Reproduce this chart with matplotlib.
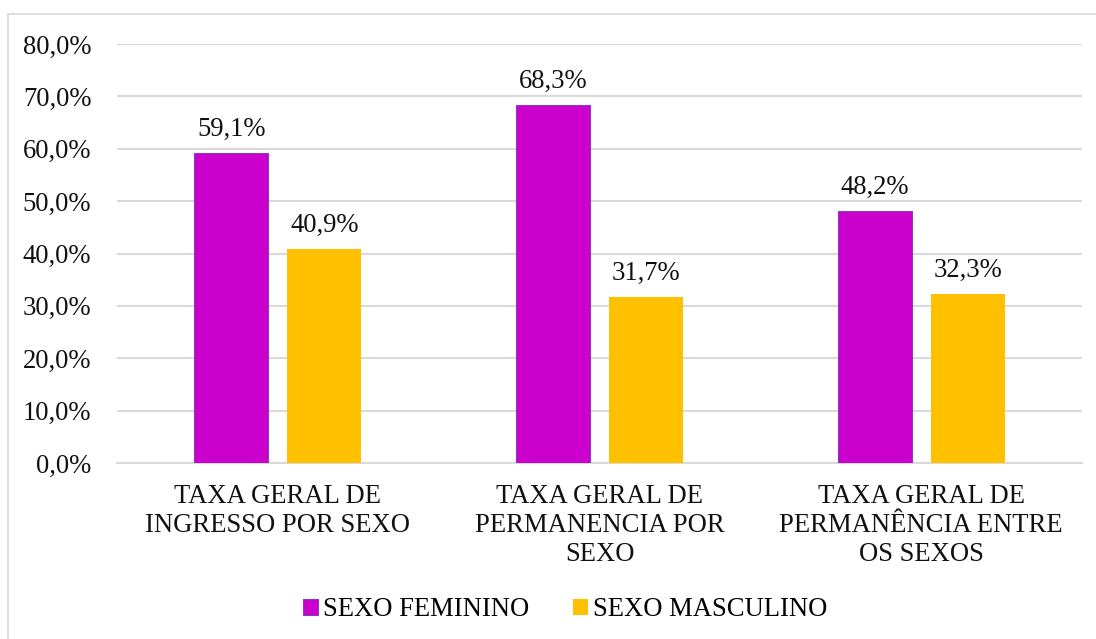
import matplotlib.pyplot as plt
import numpy as np
from matplotlib.patches import Rectangle

plt.rcParams['font.family'] = ['Liberation Serif', 'DejaVu Serif']

# DATA
categories = ["TAXA GERAL DE\nINGRESSO POR SEXO",
              "TAXA GERAL DE\nPERMANENCIA POR\nSEXO",
              "TAXA GERAL DE\nPERMANÊNCIA ENTRE\nOS SEXOS"]
feminino = [59.1, 68.3, 48.2]
masculino = [40.9, 31.7, 32.3]
series_names = ["SEXO FEMININO", "SEXO MASCULINO"]
yticks = [0, 10, 20, 30, 40, 50, 60, 70, 80]

fs = 19.2

fig = plt.figure(figsize=(10.96, 6.39), dpi=100)
ax = fig.add_axes([0.1068, 0.2754, 0.8804, 0.6557])

# chart border
fig.patches.append(Rectangle((8 / 1096, -0.1), 1.0, 1.1 - 14 / 639, transform=fig.transFigure,
                             fill=False, edgecolor='#D9D9D9', linewidth=1.2))

x = np.arange(len(categories))
width = 0.23
off = 0.1445
b1 = ax.bar(x - off, feminino, width, color='#CC00CC', edgecolor='#7F3FBF', linewidth=0.8,
            label=series_names[0], zorder=3)
b2 = ax.bar(x + off, masculino, width, color='#FFC000', label=series_names[1], zorder=3)

for bars in (b1, b2):
    for bar in bars:
        h = bar.get_height()
        ax.annotate(f"{h:.1f}%".replace('.', ','), (bar.get_x() + bar.get_width() / 2, h),
                    xytext=(0, 8), textcoords='offset points', ha='center', va='bottom',
                    fontsize=fs, color='#111111')

ax.set_xlim(-0.5, 2.5)
ax.set_ylim(0, 80)
ax.set_yticks(yticks)
ax.set_yticklabels([f"{v:.1f}%".replace('.', ',') for v in yticks])
ax.set_xticks(x)
ax.set_xticklabels(categories, linespacing=1.22)
ax.tick_params(axis='both', length=0, labelsize=fs, colors='#111111')
ax.tick_params(axis='y', pad=18.5)
ax.tick_params(axis='x', pad=15)
ax.grid(axis='y', color='#D9D9D9', linewidth=1.5, zorder=0)
for s in ['top', 'right', 'left']:
    ax.spines[s].set_visible(False)
ax.spines['bottom'].set_color('#D9D9D9')
ax.spines['bottom'].set_linewidth(1.5)

fig.legend(loc='center', bbox_to_anchor=(0.516, 0.046), ncol=2, frameon=False,
           fontsize=fs, handlelength=0.55, handleheight=0.55, handletextpad=0.2,
           columnspacing=1.63)

fig.savefig("out.png", dpi=100)
